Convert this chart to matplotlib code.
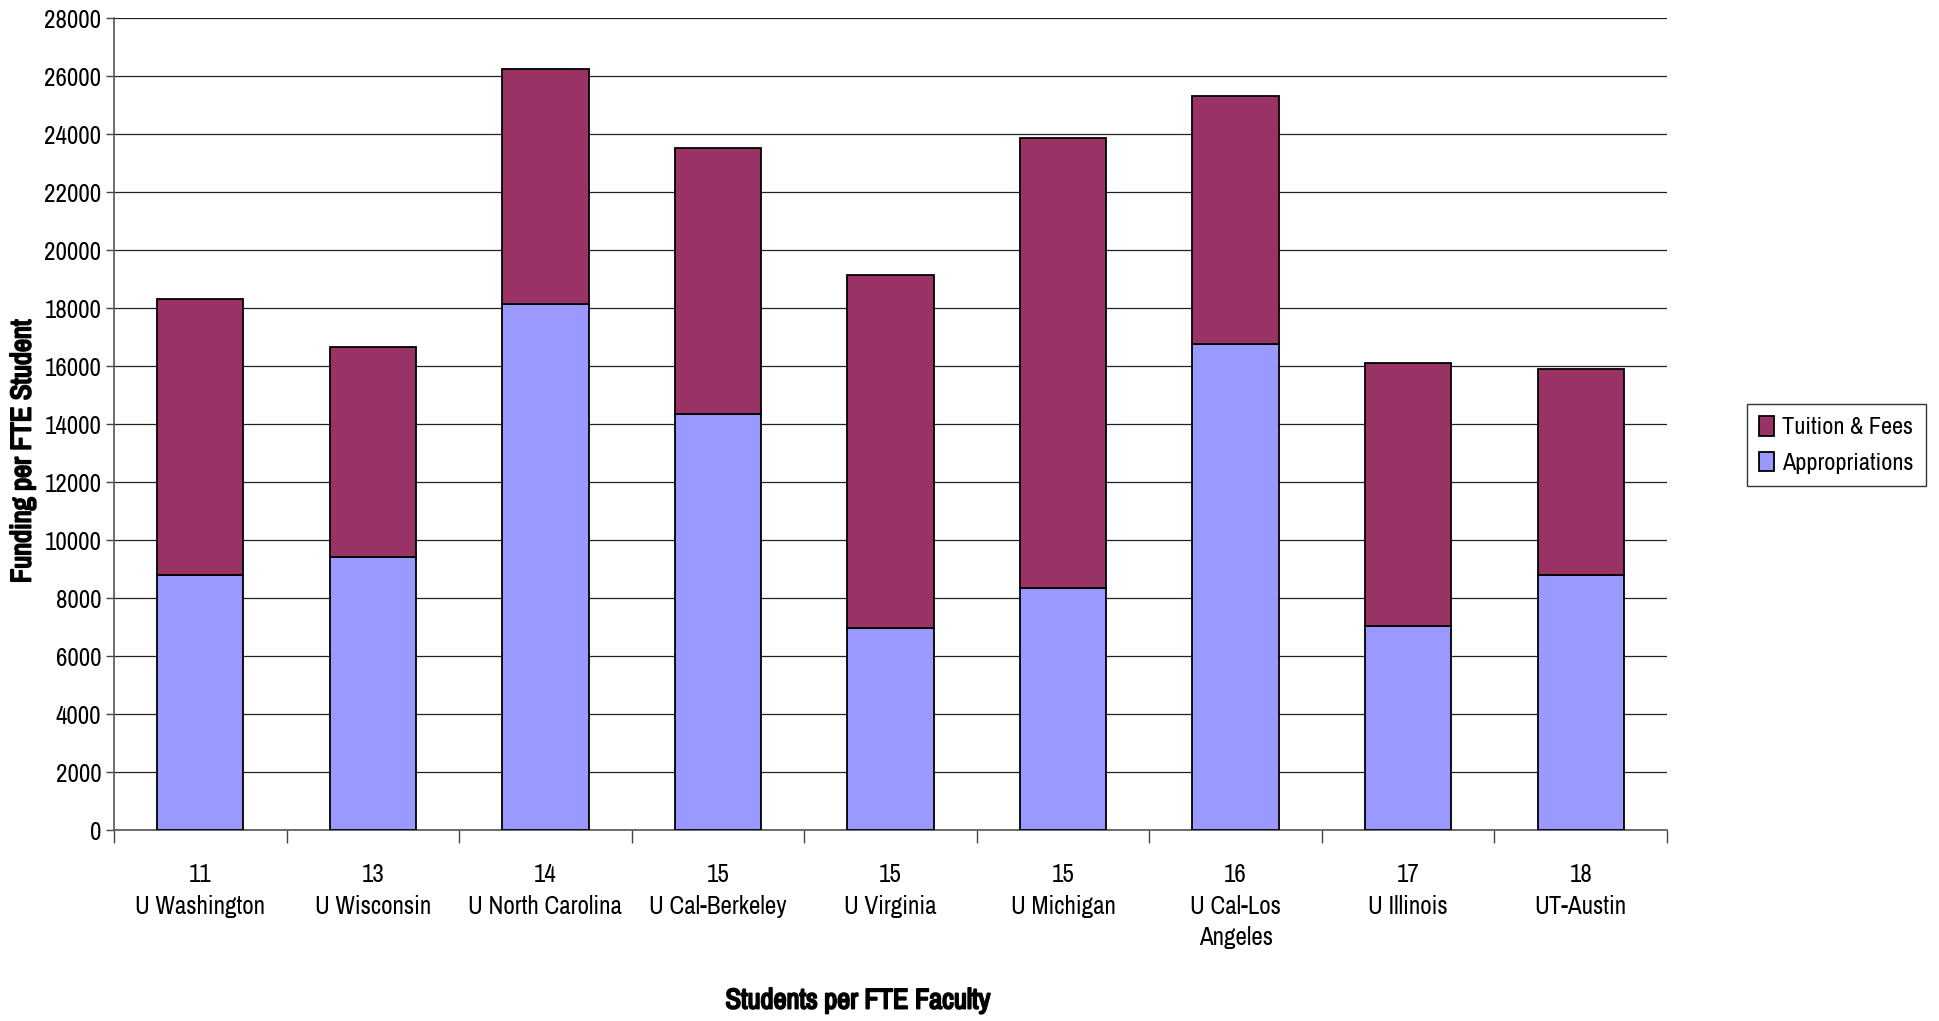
import matplotlib
matplotlib.use("Agg")
import matplotlib.pyplot as plt
import matplotlib.patheffects as pe
import numpy as np

plt.rcParams['font.family'] = ['Liberation Sans Narrow', 'Arial Narrow', 'Archivo Narrow',
                               'PT Sans Narrow', 'Roboto Condensed', 'Liberation Sans', 'DejaVu Sans']

ratios = ["11", "13", "14", "15", "15", "15", "16", "17", "18"]
schools = ["U Washington", "U Wisconsin", "U North Carolina", "U Cal-Berkeley",
           "U Virginia", "U Michigan", "U Cal-Los\nAngeles", "U Illinois", "UT-Austin"]
appropriations = [8800, 9400, 18150, 14350, 6950, 8350, 16750, 7050, 8800]
totals = [18300, 16650, 26250, 23500, 19150, 23850, 25300, 16100, 15900]
tuition = [t - a for t, a in zip(totals, appropriations)]

W, H = 1940, 1021
fig = plt.figure(figsize=(W / 100, H / 100), dpi=100)
ax = fig.add_axes([114/W, 1-830/H, (1667-114)/W, (830-18)/H])

x = np.arange(len(schools))
w = 0.5
b1 = ax.bar(x, appropriations, w, color='#9999FF', edgecolor='black', linewidth=1.3,
            label='Appropriations', zorder=3)
b2 = ax.bar(x, tuition, w, bottom=appropriations, color='#993366', edgecolor='black',
            linewidth=1.3, label='Tuition & Fees', zorder=3)

ax.set_ylim(0, 28000)
ax.set_xlim(-0.5, len(schools) - 0.5)
ax.set_yticks(np.arange(0, 28001, 2000))
ax.set_yticklabels([str(v) for v in range(0, 28001, 2000)], fontsize=18)
ax.yaxis.grid(True, color='#222222', linewidth=0.9, zorder=0)
ax.set_axisbelow(True)

ax.set_xticks(x)
ax.set_xticklabels([f"{r}\n{s}" for r, s in zip(ratios, schools)], fontsize=18,
                   linespacing=1.45, va='top')
ax.tick_params(axis='x', which='major', length=0, pad=24)
ax.set_xticks(np.arange(-0.5, len(schools), 1), minor=True)
ax.tick_params(axis='x', which='minor', length=9, width=1, color='#444444')
ax.tick_params(axis='y', length=6, width=1, color='#444444', pad=3)

for s in ['top', 'right']:
    ax.spines[s].set_visible(False)
for s in ['left', 'bottom']:
    ax.spines[s].set_color('#555555')
    ax.spines[s].set_linewidth(1.2)

bold = [pe.withStroke(linewidth=1.4, foreground='black')]
fig.text(23/W, 1-451/H, 'Funding per FTE Student', fontsize=20.5, fontweight='bold',
         rotation=90, ha='center', va='center', path_effects=bold)
fig.text(858/W, 1-1001/H, 'Students per FTE Faculty', fontsize=20.5,
         fontweight='bold', ha='center', va='center', path_effects=bold)

handles = [b2, b1]
leg = ax.legend(handles, ['Tuition & Fees', 'Appropriations'], loc='center right',
                bbox_to_anchor=(1926/W, 1-445/H), bbox_transform=fig.transFigure,
                fontsize=17.5, frameon=True, fancybox=False, edgecolor='black',
                handlelength=0.6, handleheight=0.85, handletextpad=0.35,
                borderpad=0.5, labelspacing=0.55, borderaxespad=0)
leg.get_frame().set_linewidth(1.0)

fig.savefig('out.png', dpi=100)
